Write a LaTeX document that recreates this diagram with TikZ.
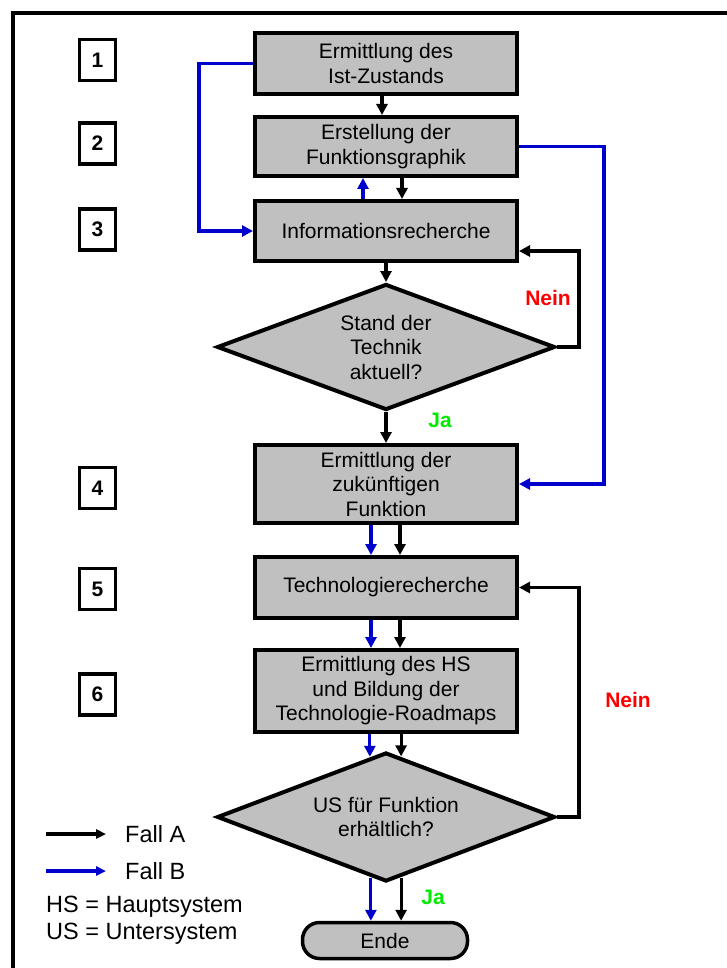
\documentclass[tikz,border=0pt]{standalone}
\usepackage{fontspec}
\setmainfont{Liberation Sans}
\usetikzlibrary{shapes.geometric,arrows.meta,calc}
\definecolor{boxgray}{RGB}{192,192,192}
\definecolor{fallblue}{RGB}{0,0,204}
\definecolor{jagreen}{RGB}{0,235,0}
\definecolor{neinred}{RGB}{255,0,0}
\begin{document}
\begin{tikzpicture}[x=1pt,y=-1pt,
  every node/.style={font=\fontsize{21}{24.5}\selectfont},
  stepbox/.style={draw, line width=4pt, fill=boxgray, minimum width=262pt, align=center, inner sep=0pt},
  numbox/.style={draw, line width=3.5pt, minimum width=36pt, minimum height=41pt, inner sep=0pt, font=\fontsize{21}{24}\selectfont\bfseries},
  decision/.style={diamond, draw, line width=4pt, fill=boxgray, shape aspect=2.7, minimum width=338pt, align=center, inner sep=0pt},
  endbox/.style={draw, line width=3.5pt, fill=boxgray, rounded corners=17pt, minimum width=165pt, minimum height=36pt, inner sep=0pt},
  arrA/.style={line width=3.2pt, -{Triangle[length=11pt,width=11pt]}},
  arrB/.style={arrA, color=fallblue},
  nein/.style={text=neinred, font=\fontsize{21}{24}\selectfont\bfseries},
  ja/.style={text=jagreen, font=\fontsize{21}{24}\selectfont\bfseries},
  legend/.style={anchor=west, font=\fontsize{23.5}{27}\selectfont, inner sep=0pt},
]
\useasboundingbox (0,0) rectangle (727,968);
% frame
\draw[line width=4.5pt] (13,1000) -- (13,13) -- (760,13);

% step boxes
\node[stepbox, minimum height=61pt] (b1) at (386,63.5) {Ermittlung des\\Ist-Zustands};
\node[stepbox, minimum height=59pt] (b2) at (386,146.5) {Erstellung der\\Funktionsgraphik};
\node[stepbox, minimum height=60pt] (b3) at (386,231) {Informationsrecherche};
\node[decision, minimum height=126pt] (d1) at (386,347) {Stand der\\Technik\\aktuell?};
\node[stepbox, minimum height=78pt] (b4) at (386,484) {Ermittlung der\\zukünftigen\\Funktion};
\node[stepbox, minimum height=61pt] (b5) at (386,587.5) {Technologierecherche};
\node[stepbox, minimum height=82pt] (b6) at (386,691) {Ermittlung des HS\\und Bildung der\\Technologie-Roadmaps};
\node[decision, minimum height=129pt] (d2) at (386,817) {US für Funktion\\erhältlich?};
\node[endbox] (ende) at (385,940.5) {Ende};

% number boxes
\node[numbox] (n1) at (97.5,60) {1};
\node[numbox] (n2) at (97.5,143.5) {2};
\node[numbox] (n3) at (97.5,229.5) {3};
\node[numbox] (n4) at (97.5,488) {4};
\node[numbox] (n5) at (97.5,589) {5};
\node[numbox] (n6) at (97.5,694.5) {6};

% vertical connectors
\draw[arrA] ([xshift=-4pt]b1.south) -- ([xshift=-4pt]b2.north);
\draw[arrB] ([xshift=-23pt]b3.north) -- ([xshift=-23pt]b2.south);
\draw[arrA] ([xshift=16pt]b2.south) -- ([xshift=16pt]b3.north);
\draw[arrA] (b3.south) -- (d1.north);
\draw[arrA] (d1.south) -- (b4.north);
\draw[arrB] ([xshift=-15pt]b4.south) -- ([xshift=-15pt]b5.north);
\draw[arrA] ([xshift=14pt]b4.south) -- ([xshift=14pt]b5.north);
\draw[arrB] ([xshift=-15pt]b5.south) -- ([xshift=-15pt]b6.north);
\draw[arrA] ([xshift=14pt]b5.south) -- ([xshift=14pt]b6.north);
\draw[arrB] (d2.105 |- b6.south) -- (d2.105);
\draw[arrA] (d2.76 |- b6.south) -- (d2.76);
\draw[arrB] (d2.256) -- (d2.256 |- ende.north);
\draw[arrA] (d2.284) -- (d2.284 |- ende.north);

% loops
\draw[arrB] (b1.west) -- ++(-54,0) |- (b3.west);
\draw[arrB] (b2.east) -- ++(85,0) |- (b4.east);
\draw[arrA] (d1.east) -- (d1.east -| 579,0) |- ([yshift=-20pt]b3.east);
\draw[arrA] (d2.east) -- (d2.east -| 579,0) |- (b5.east);

% labels
\node[nein] (nein1) at (548,298) {Nein};
\node[ja] (ja1) at (440,420) {Ja};
\node[nein] (nein2) at (628,700) {Nein};
\node[ja] (ja2) at (433,897) {Ja};

% legend
\coordinate (la1) at (46,834);
\coordinate (la2) at (106,834);
\coordinate (lb1) at (46,871);
\coordinate (lb2) at (106,871);
\draw[arrA, -{Triangle[length=10pt,width=9pt]}] (la1) -- (la2);
\draw[arrB, -{Triangle[length=10pt,width=9pt]}] (lb1) -- (lb2);
\node[legend] (fa) at (125,834) {Fall A};
\node[legend] (fb) at (125,871) {Fall B};
\node[legend] (hs) at (46,907) {HS = Hauptsystem};
\node[legend] (us) at (46,934) {US = Untersystem};
\end{tikzpicture}
\end{document}
